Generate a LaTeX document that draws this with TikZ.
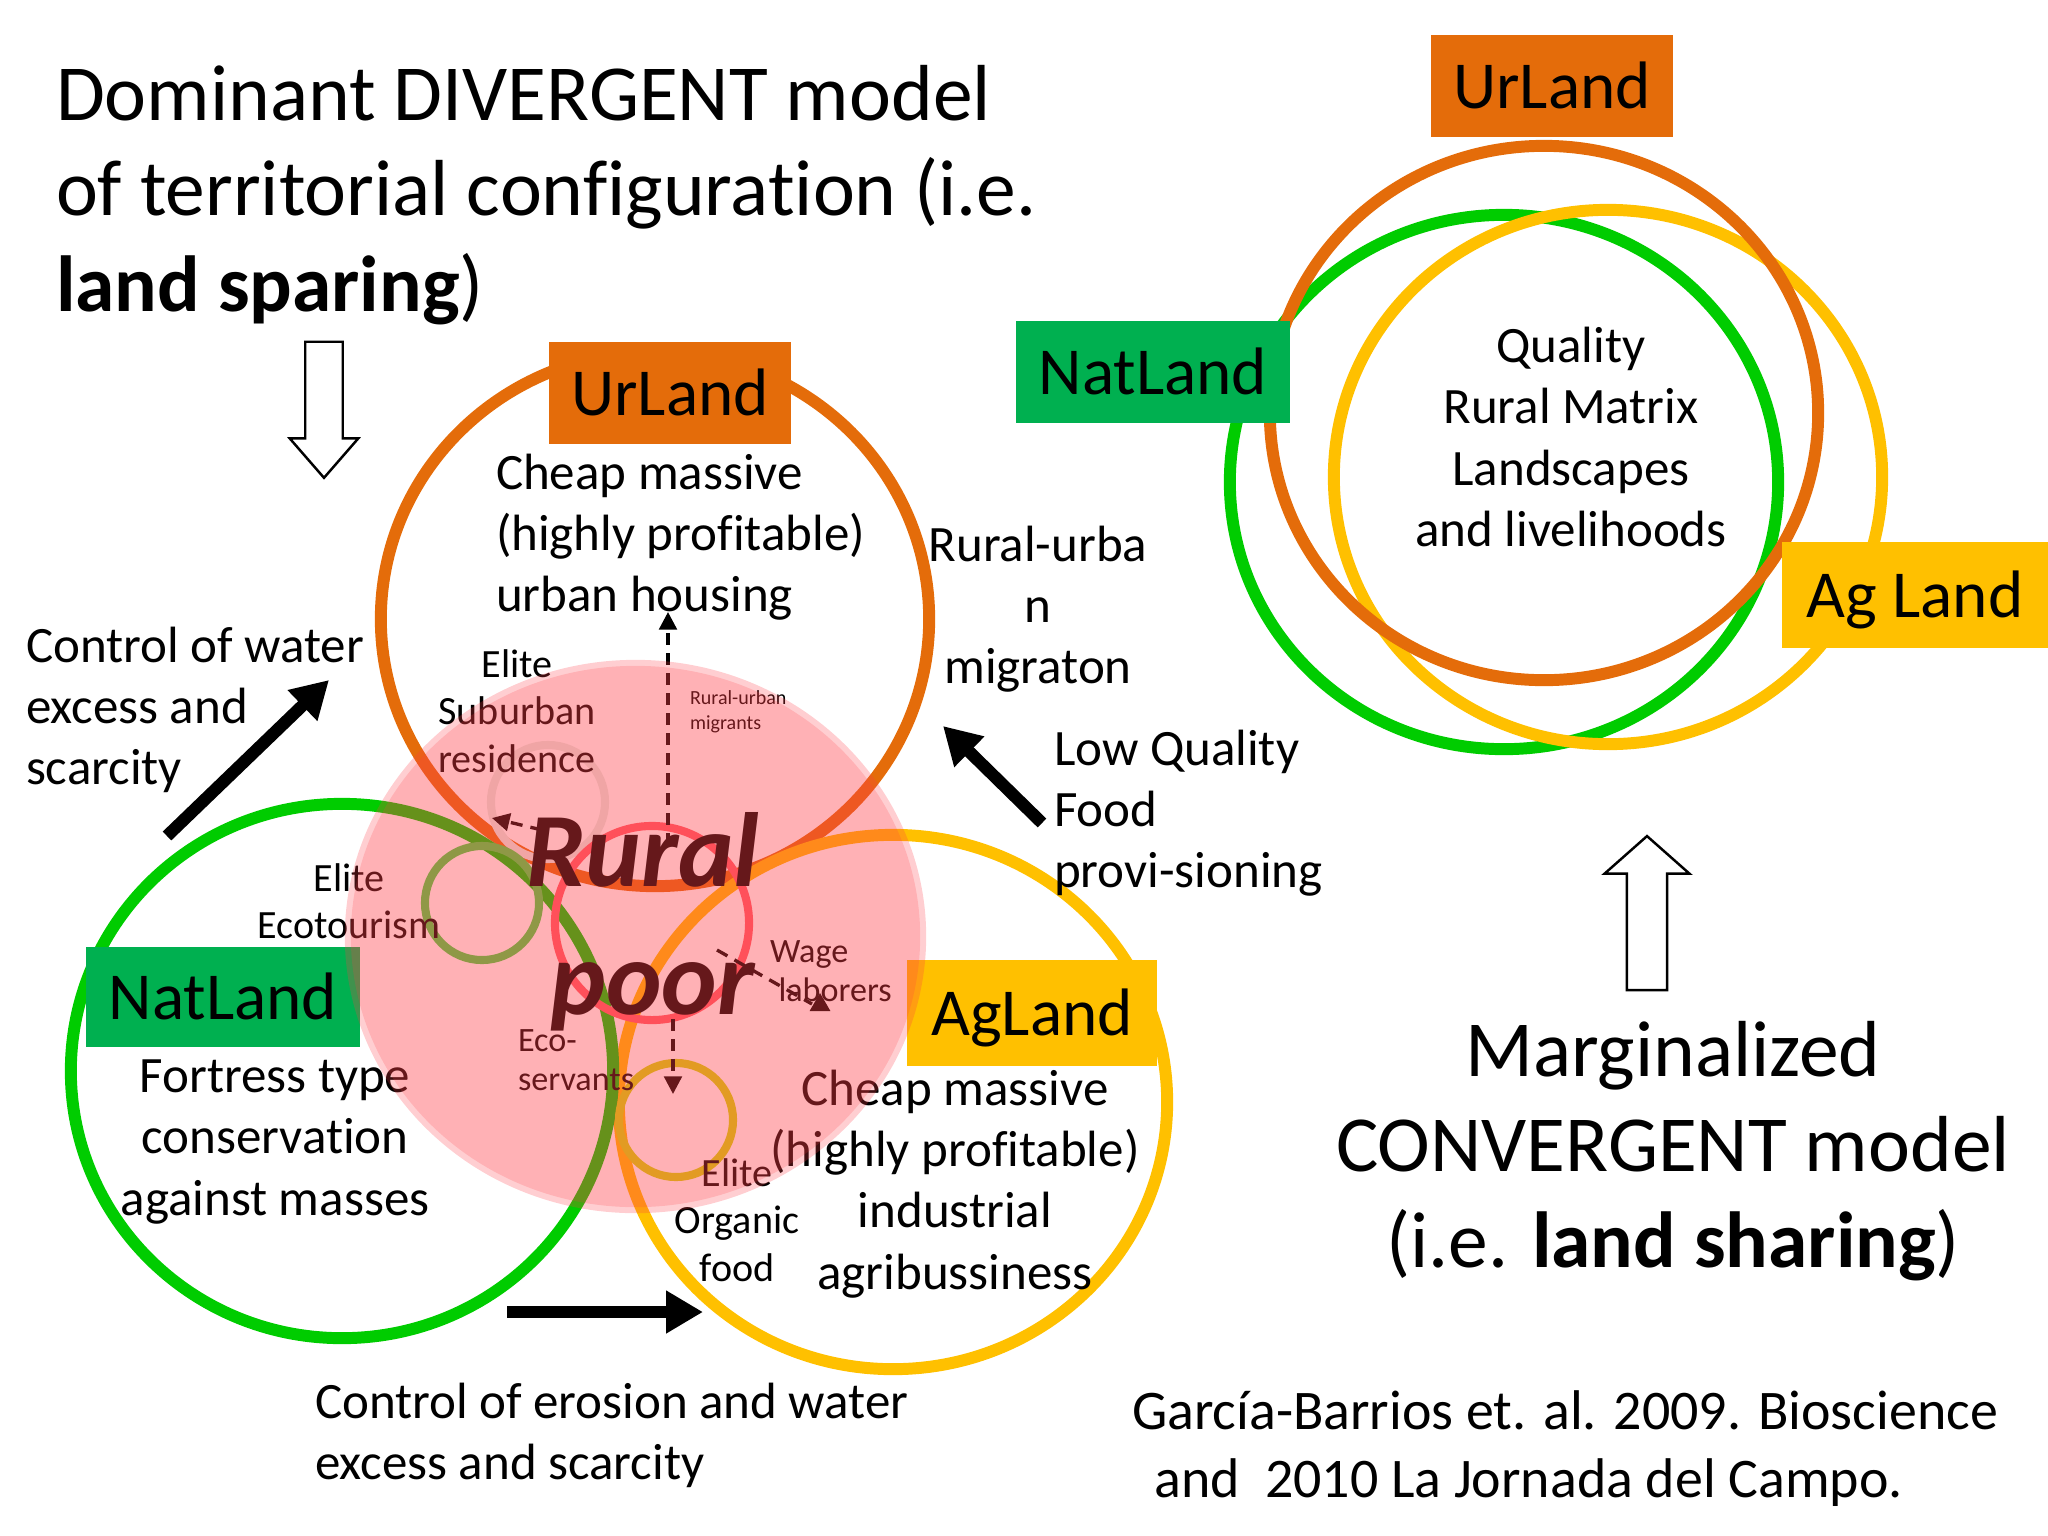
\documentclass[tikz,border=0pt]{standalone}
\usepackage{fontspec}
\setmainfont{Carlito}[Ligatures=NoCommon]
\usepackage{tikz}
\usetikzlibrary{arrows.meta,shapes.geometric,shapes.arrows,positioning}
\definecolor{urorange}{RGB}{228,108,10}
\definecolor{natgreen}{RGB}{0,176,80}
\definecolor{ringgreen}{RGB}{0,204,0}
\definecolor{agyellow}{RGB}{255,192,0}
\definecolor{ruralpink}{RGB}{255,60,70}
\definecolor{ringred}{RGB}{255,95,105}
\definecolor{ringolive}{RGB}{70,215,70}
\definecolor{ringgold}{RGB}{207,220,13}
\definecolor{ringpale}{RGB}{232,237,230}

\begin{document}
\begin{tikzpicture}[x=0.01cm,y=-0.01cm,
    every node/.style={inner sep=0pt,outer sep=0pt},
    ring/.style={ellipse,draw,line width=3.4pt,minimum width=5.48cm,minimum height=5.34cm},
    smallring/.style={circle,draw,line width=2.3pt,minimum size=1.14cm},
    landbox/.style={font=\fontsize{19.1}{23}\selectfont,text=black,text height=15pt,text depth=2pt},
    titletext/.style={font=\fontsize{22.6}{27.2}\selectfont,align=left},
    bodytext/.style={font=\fontsize{14.5}{17.4}\selectfont,align=left},
    eliteness/.style={font=\fontsize{11.4}{13.5}\selectfont,align=center},
    tinytext/.style={font=\fontsize{9.7}{11.2}\selectfont,align=left},
    fat/.style={-{Triangle[length=10.5pt,width=11.5pt]},line width=3.5pt},
    migrate/.style={-{Triangle[length=5pt,width=5pt]},dash pattern=on 3.4pt off 2.3pt,line width=.95pt,draw=black},
    blockarrow/.style={single arrow,draw,line width=.7pt,fill=white,inner sep=1.75mm}]

    \useasboundingbox (0,0) rectangle (2048,1536);

    \node[ring,draw=urorange]                      (u_1) at (655,619)   {};
    \node[ring,draw=agyellow]                      (a_1) at (893,1102)  {};
    \node[ring,draw=ringgreen,minimum width=5.42cm] (n_1) at (342,1071) {};
    \node[ring,draw=ringgreen]                     (n_2) at (1504,482)  {};
    \node[ring,draw=agyellow]                      (a_2) at (1608,477)  {};
    \node[ring,draw=urorange]                      (u_2) at (1544,413)  {};

    \node[smallring,draw=ringpale]                 (s_1) at (548,802)   {};
    \node[smallring,draw=ringolive]                (s_2) at (482,903)   {};
    \node[smallring,draw=ringgold]                 (s_3) at (676,1120)  {};
    \node[smallring,draw=ringred,minimum size=1.94cm] (s_4) at (652,923) {};

    \node[landbox,fill=urorange,minimum width=2.41cm,minimum height=1.02cm]  (ur_1)  at (670,393)   {UrLand};
    \node[landbox,fill=natgreen,minimum width=2.73cm,minimum height=1.00cm]  (nat_1) at (223,997)   {NatLand};
    \node[landbox,fill=agyellow,minimum width=2.49cm,minimum height=1.06cm]  (ag_1)  at (1032,1013) {AgLand};
    \node[landbox,fill=urorange,minimum width=2.42cm,minimum height=1.01cm]  (ur_2)  at (1552,86)   {UrLand};
    \node[landbox,fill=natgreen,minimum width=2.74cm,minimum height=1.02cm]  (nat_2) at (1153,372)  {NatLand};
    \node[landbox,fill=agyellow,minimum width=2.65cm,minimum height=1.06cm]  (ag_2)  at (1915,595)  {Ag Land};

    \node[titletext,anchor=west]  (t_1) at (56,195)    {Dominant DIVERGENT model\\of territorial configuration (i.e.\\\textbf{land sparing})};
    \node[titletext,align=center] (t_2) at (1673,1151) {Marginalized\\CONVERGENT model\\(i.e. \textbf{land sharing})};

    \node[bodytext,anchor=west]   (b_1) at (496,537)   {Cheap massive\\(highly profitable)\\urban housing};
    \node[bodytext,anchor=west]   (b_2) at (26,710)    {Control of water\\excess and\\scarcity};
    \node[bodytext,align=center]  (b_3) at (1038,609)  {Rural-urba\\n\\migraton};
    \node[bodytext,anchor=west]   (b_4) at (1054,813)  {Low Quality\\Food\\provi-sioning};
    \node[bodytext,align=center]  (b_5) at (275,1142)  {Fortress type\\conservation\\against masses};
    \node[bodytext,align=center]  (b_6) at (955,1184)  {Cheap massive\\(highly profitable)\\industrial\\agribussiness};
    \node[bodytext,anchor=west]   (b_7) at (315,1435)  {Control of erosion and water\\excess and scarcity};
    \node[bodytext,align=center]  (b_8) at (1571,437)  {Quality\\Rural Matrix\\Landscapes\\and livelihoods};

    \node[eliteness]              (e_1) at (517,711)   {Elite\\Suburban\\residence};
    \node[eliteness]              (e_2) at (349,901)   {Elite\\Ecotourism};
    \node[eliteness]              (e_3) at (737,1220)  {Elite\\Organic\\food};
    \node[tinytext,anchor=west]   (w_1) at (518,1060)  {Eco-\\servants};
    \node[tinytext,anchor=west]   (w_2) at (770,971)   {Wage\\\hspace*{.25em}laborers};
    \node[anchor=west,align=left,font=\fontsize{5.7}{7}\selectfont] (w_3) at (690,712) {Rural-urban\\migrants};

    \node[align=center,font=\fontsize{30}{36.4}\selectfont\bfseries\itshape] (rural) at (643,922) {Rural\\\hspace*{.18em}poor};

    \node[font=\fontsize{15.9}{19.3}\selectfont,align=left] (cite) at (1565,1449) {García-Barrios et. al. 2009. Bioscience\\\hspace*{.4em}and\ \ 2010 La Jornada del Campo.};

    \coordinate (up_a)    at (668,845);
    \coordinate (up_b)    at (668,612);
    \coordinate (left_a)  at (542,830);
    \coordinate (left_b)  at (492,818);
    \coordinate (down_a)  at (673,1019);
    \coordinate (down_b)  at (673,1094);
    \coordinate (wage_a)  at (717,950);
    \coordinate (wage_b)  at (812,1004);

    \draw[migrate] (up_a)   -- (up_b);
    \draw[migrate] (left_a) -- (left_b);
    \draw[migrate] (down_a) -- (down_b);
    \draw[migrate,-] (wage_a) -- (wage_b);
    \node[regular polygon,regular polygon sides=3,fill=black,minimum size=.24cm] (wage_tip) at (820,1005) {};

    \node[ellipse,minimum width=5.81cm,minimum height=5.53cm,fill=ruralpink,fill opacity=.25] (halo) at (635.5,936.5) {};
    \node[ellipse,minimum width=5.69cm,minimum height=5.41cm,fill=ruralpink,fill opacity=.2]  (poor) at (635.5,936.5) {};

    \coordinate (f_1a) at (167,836);
    \coordinate (f_1b) at (329,680);
    \coordinate (f_2a) at (1042,823);
    \coordinate (f_2b) at (943,726);
    \coordinate (f_3a) at (507,1312);
    \coordinate (f_3b) at (703,1312);

    \draw[fat] (f_1a) -- (f_1b);
    \draw[fat] (f_2a) -- (f_2b);
    \draw[fat] (f_3a) -- (f_3b);

    \node[blockarrow,rotate=-90,minimum height=1.36cm,minimum width=.66cm,single arrow head extend=1.55mm,single arrow tip angle=82] (o_1) at (324,399) {};
    \node[blockarrow,rotate=90,minimum height=1.54cm,minimum width=.85cm,single arrow head extend=2.1mm,single arrow tip angle=97] (o_2) at (1647,922) {};
\end{tikzpicture}
\end{document}
